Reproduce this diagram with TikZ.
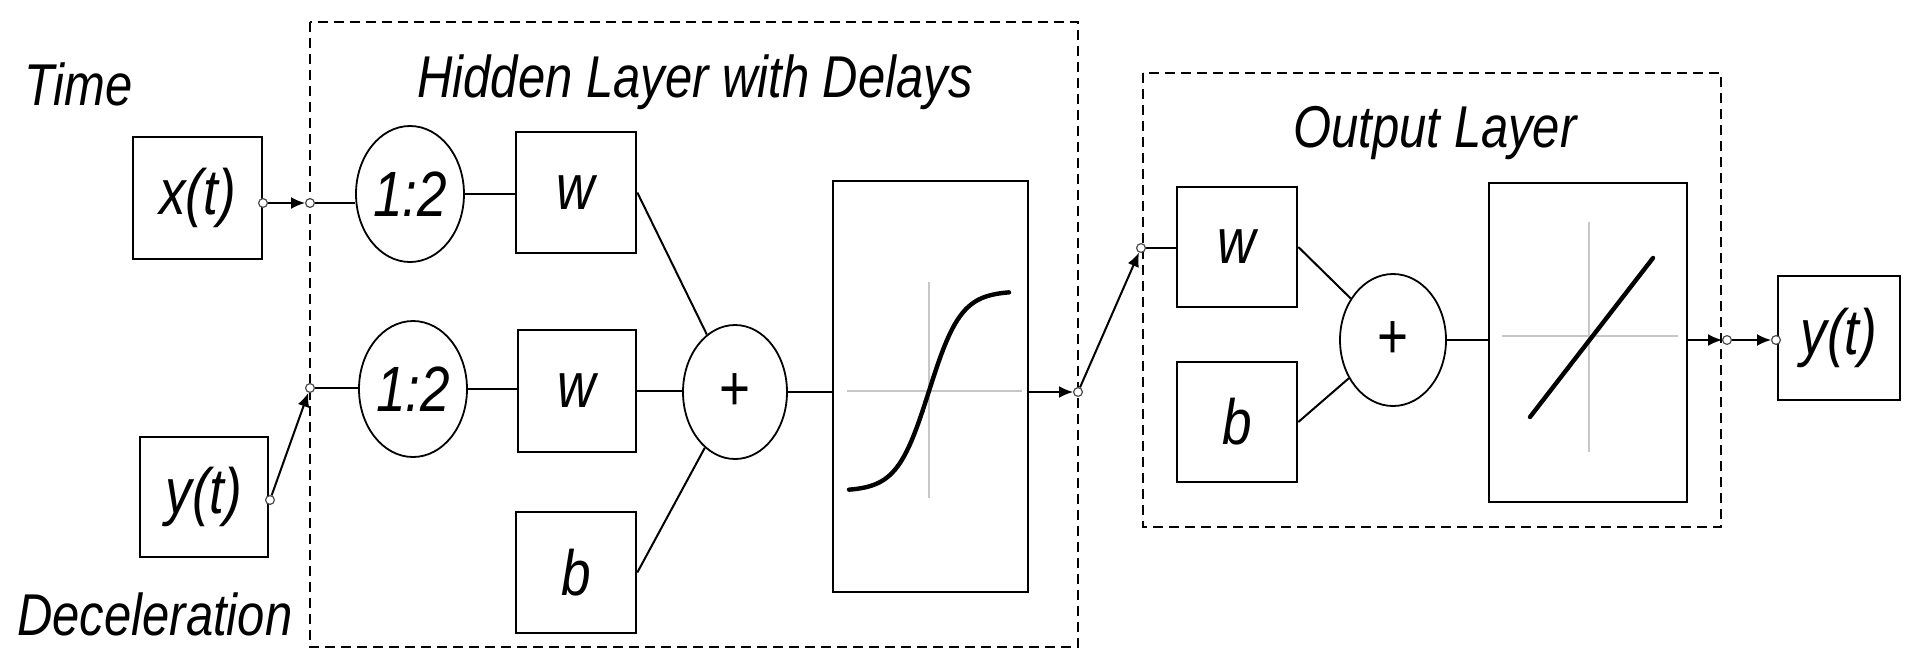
\documentclass[tikz,border=0pt]{standalone}
\usepackage{fontspec}
\setmainfont{Liberation Sans}[FakeStretch=0.83]
\usetikzlibrary{shapes.geometric,arrows.meta}
\begin{document}
\begin{tikzpicture}[x=0.5pt,y=-0.5pt,
  box/.style={draw, line width=1.3pt, inner sep=0pt, font=\fontsize{32}{32}\selectfont\itshape},
  ell/.style={draw, ellipse, line width=0.9pt, inner sep=0pt, font=\fontsize{32}{32}\selectfont\itshape},
  sumnode/.style={draw, ellipse, line width=0.9pt, inner sep=0pt, font=\fontsize{32}{32}\selectfont},
  dot/.style={circle, draw=black!70, fill=white, line width=0.6pt, minimum size=4.4pt, inner sep=0pt},
  conn/.style={line width=1pt},
  arr/.style={line width=1pt, -{Latex[length=7pt,width=6pt]}},
  dashedbox/.style={line width=1.2pt, dash pattern=on 5pt off 3pt},
  lbl/.style={font=\fontsize{29.5}{29.5}\selectfont\itshape, inner sep=0pt},
  axis/.style={black!22, line width=1.2pt},
  curve/.style={line width=2.2pt, line cap=round}]
\useasboundingbox (0,0) rectangle (1921,670);

% dashed layer boxes
\draw[dashedbox] (310,22) rectangle (1078,647);
\draw[dashedbox] (1143,73) rectangle (1721,527);

% texts
\node[lbl, anchor=base east] (time) at (133,105) {Time};
\node[lbl, anchor=base west] (decel) at (17,635) {Deceleration};
\node[lbl, anchor=base] (hid) at (695,97) {Hidden Layer with Delays};
\node[lbl, anchor=base] (outl) at (1435,147) {Output Layer};

% input boxes
\node[box, minimum width=64.5pt, minimum height=61pt] (xt) at (197.5,198) {x(t)};
\node[box, minimum width=64pt, minimum height=60pt] (yt) at (204,497) {y(t)};

% hidden layer
\node[ell, minimum width=54pt, minimum height=68pt] (e1) at (410,194) {1:2};
\node[ell, minimum width=54pt, minimum height=68pt] (e2) at (413,389) {1:2};
\node[box, minimum width=60pt, minimum height=60.5pt] (w1) at (576,192.5) {w};
\node[box, minimum width=59pt, minimum height=61pt] (w2) at (577,391) {w};
\node[box, minimum width=60pt, minimum height=60.5pt] (b1) at (576,572.5) {b};
\node[sumnode, minimum width=52pt, minimum height=67pt] (p1) at (735,392) {+};
\node[box, minimum width=97.5pt, minimum height=205.5pt] (T1) at (930.5,386.5) {};

% output layer
\node[box, minimum width=60pt, minimum height=60pt] (w3) at (1237,247) {w};
\node[box, minimum width=60pt, minimum height=60pt] (b2) at (1237,422) {b};
\node[sumnode, minimum width=53pt, minimum height=66pt] (p2) at (1393,340) {+};
\node[box, minimum width=99pt, minimum height=159.5pt] (T2) at (1588,342.5) {};
\node[box, minimum width=61pt, minimum height=62pt] (yo) at (1839,338) {y(t)};

% transfer function drawings
\draw[axis] (847,391) -- (1022,391);
\draw[axis] (929,282) -- (929,498);
\draw[curve] plot[domain=849:1009, samples=60] (\x, {391-100*tanh(2.5*(\x-929)/80)});
\draw[axis] (1502,336) -- (1678,336);
\draw[axis] (1589,222) -- (1589,452);
\draw[curve] (1530,417) -- (1653,258);

% small port circles
\node[dot] (s1) at (263,203) {};
\node[dot] (s2) at (270,500) {};
\node[dot] (c1) at (310,203) {};
\node[dot] (c2) at (310,388) {};
\node[dot] (c3) at (1078,392) {};
\node[dot] (c4) at (1141,248) {};
\node[dot] (c5) at (1727,340) {};
\node[dot] (c6) at (1776,340) {};

% connectors
\draw[arr] (s1) -- (c1);
\draw[arr] (s2) -- (c2);
\draw[conn] (c1) -- (c1 -| e1.west);
\draw[conn] (c2) -- (c2 -| e2.west);
\draw[conn] (e1.east) -- (e1.east -| w1.west);
\draw[conn] (e2.east) -- (e2.east -| w2.west);
\draw[conn] (w1.east) -- (p1);
\draw[conn] (w2.east) -- (w2.east -| p1.west);
\draw[conn] (b1.east) -- (p1);
\draw[conn] (p1.east) -- (p1.east -| T1.west);
\draw[arr] (T1.east |- c3) -- (c3);
\draw[arr] (c3) -- (c4);
\draw[conn] (c4) -- (c4 -| w3.west);
\draw[conn] (w3.east) -- (p2);
\draw[conn] (b2.east) -- (p2);
\draw[conn] (p2.east) -- (p2.east -| T2.west);
\draw[arr] (T2.east |- c5) -- (c5);
\draw[arr] (c5) -- (c6);
\end{tikzpicture}
\end{document}
